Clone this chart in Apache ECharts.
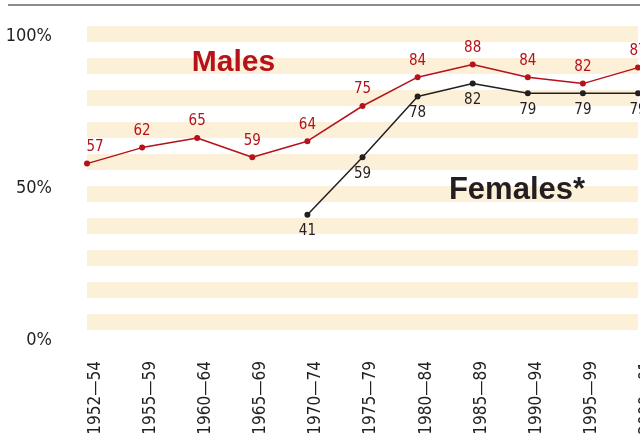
<!DOCTYPE html>
<html>
<head>
<meta charset="utf-8">
<script src="https://cdn.jsdelivr.net/npm/echarts@6/dist/echarts.min.js"></script>
<style>
html,body{margin:0;padding:0;background:#fff;}
#chart{width:640px;height:438px;}
</style>
</head>
<body>
<div id="chart"></div>
<script>
var periods = ['1952—54','1955—59','1960—64','1965—69','1970—74','1975—79','1980—84','1985—89','1990—94','1995—99','2000—01'];
var males = [57, 62, 65, 59, 64, 75, 84, 88, 84, 82, 87];
var females = [null, null, null, null, 41, 59, 78, 82, 79, 79, 79];
var yTickValues = [0, 50, 100];

var FONT = '"Liberation Sans Narrow", "DejaVu Sans Condensed", sans-serif';
var RED = '#b5121b';
var DARK = '#231f20';

// first male label sits to the right of its point (edge of plot)
var maleData = males.map(function (v, i) {
  return i === 0 ? {value: v, label: {offset: [8, 0]}} : v;
});

var chart = echarts.init(document.getElementById('chart'), null, {renderer: 'canvas'});
chart.setOption({
  animation: false,
  backgroundColor: '#ffffff',
  grid: {left: 87, top: 26, width: 551, height: 320, containLabel: false, outerBoundsMode: 'none'},
  xAxis: {
    type: 'category',
    data: periods,
    boundaryGap: false,
    axisLine: {show: false},
    axisTick: {show: false},
    splitLine: {show: false},
    axisLabel: {
      rotate: 90,
      margin: 15,
      interval: 0,
      verticalAlign: 'top',
      color: DARK,
      fontFamily: FONT,
      fontSize: 17
    }
  },
  yAxis: [{
    type: 'value',
    min: 0,
    max: 100,
    interval: 5,
    axisLine: {show: false},
    axisTick: {show: false},
    axisLabel: {show: false},
    splitLine: {show: false},
    splitArea: {show: true, areaStyle: {color: ['rgba(255,255,255,0)', '#fdf0d9']}}
  }, {
    type: 'value',
    min: -6 / 3.04,
    max: 100 + 10 / 3.04,
    position: 'left',
    axisLine: {show: false},
    axisTick: {show: false},
    splitLine: {show: false},
    splitArea: {show: false},
    axisLabel: {
      customValues: yTickValues,
      margin: 35,
      color: DARK,
      fontFamily: FONT,
      fontSize: 18,
      formatter: function (v) { return Math.round(v) + '%'; }
    }
  }],
  series: [{
    name: 'Males',
    type: 'line',
    data: maleData,
    yAxisIndex: 0,
    symbol: 'circle',
    symbolSize: 6,
    lineStyle: {color: RED, width: 1.5},
    itemStyle: {color: RED},
    label: {
      show: true,
      position: 'top',
      distance: 6,
      color: RED,
      fontFamily: FONT,
      fontSize: 15
    }
  }, {
    name: 'Females*',
    type: 'line',
    data: females,
    yAxisIndex: 0,
    symbol: 'circle',
    symbolSize: 6,
    lineStyle: {color: DARK, width: 1.5},
    itemStyle: {color: DARK},
    label: {
      show: true,
      position: 'bottom',
      distance: 6,
      color: DARK,
      fontFamily: FONT,
      fontSize: 15
    }
  }],
  graphic: [{
    type: 'line',
    z: 100,
    shape: {x1: 8, y1: 5, x2: 640, y2: 5},
    style: {stroke: '#8c8c8c', lineWidth: 2}
  }, {
    type: 'text',
    z: 100,
    x: 233.5,
    y: 63,
    style: {
      text: 'Males',
      fill: RED,
      font: 'bold 30px "Liberation Sans", sans-serif',
      align: 'center',
      verticalAlign: 'middle'
    }
  }, {
    type: 'text',
    z: 100,
    x: 517,
    y: 190,
    style: {
      text: 'Females*',
      fill: DARK,
      font: 'bold 31px "Liberation Sans", sans-serif',
      align: 'center',
      verticalAlign: 'middle'
    }
  }]
});
</script>
</body>
</html>
